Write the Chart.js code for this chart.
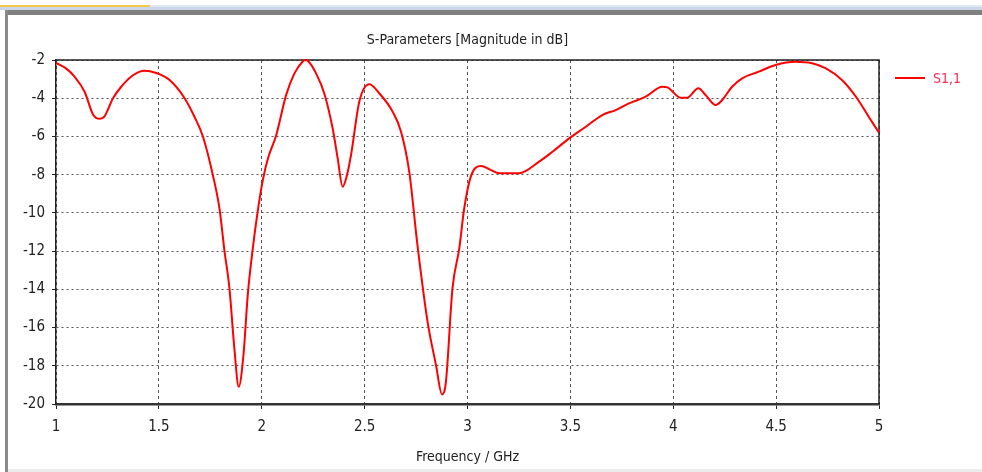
<!DOCTYPE html>
<html>
<head>
<meta charset="utf-8">
<title>S-Parameters</title>
<script src="https://cdn.jsdelivr.net/npm/chart.js@4.4.1/dist/chart.umd.min.js"></script>
<style>
  html, body { margin: 0; padding: 0; background: #ffffff; }
  #wrap { position: relative; width: 982px; height: 472px; overflow: hidden; background: #ffffff; }
  .bar { position: absolute; }
  #chartBox { position: absolute; left: 0; top: 0; width: 982px; height: 472px; }
</style>
</head>
<body>
<div id="wrap">
  <!-- window frame -->
  <div class="bar" style="left:0;top:5px;width:150px;height:2px;background:#f2c94c;"></div>
  <div class="bar" style="left:150px;top:5px;width:832px;height:2px;background:#dfe9f5;"></div>
  <div class="bar" style="left:0;top:7px;width:982px;height:3px;background:#c9d6e8;"></div>
  <div class="bar" style="left:5px;top:10px;width:977px;height:5px;background:#808080;"></div>
  <div class="bar" style="left:5px;top:10px;width:3px;height:462px;background:#8a8a8a;"></div>
  <div class="bar" style="left:8px;top:469px;width:974px;height:3px;background:#ececec;"></div>
  <div id="chartBox"><canvas id="chart"></canvas></div>
</div>
<script>
// Reflection coefficient S1,1 (dB) versus frequency (GHz)
const freqGHz = [
  1.000, 1.050, 1.090, 1.139, 1.180, 1.212, 1.236, 1.277, 1.317, 1.374,
  1.430, 1.487, 1.552, 1.625, 1.673, 1.714, 1.762, 1.795, 1.819, 1.843,
  1.867, 1.888, 1.911, 1.932, 1.956, 1.980, 2.005, 2.030, 2.070, 2.118,
  2.159, 2.199, 2.210, 2.225, 2.264, 2.304, 2.345, 2.369, 2.393, 2.410,
  2.434, 2.474, 2.523, 2.571, 2.636, 2.677, 2.717, 2.757, 2.806, 2.847,
  2.876, 2.895, 2.927, 2.960, 2.984, 3.016, 3.065, 3.114, 3.154, 3.251,
  3.348, 3.413, 3.494, 3.575, 3.655, 3.720, 3.785, 3.866, 3.947, 3.971,
  4.036, 4.068, 4.122, 4.157, 4.206, 4.238, 4.286, 4.335, 4.416, 4.497,
  4.594, 4.675, 4.740, 4.820, 4.893, 4.950, 5.000
];
const s11dB = [
  -2.15, -2.45, -2.87, -3.66, -4.85, -5.08, -4.95, -4.00, -3.40, -2.80,
  -2.56, -2.68, -3.05, -4.00, -4.97, -6.00, -8.00, -9.80, -12.00, -13.95,
  -17.10, -19.10, -17.45, -14.30, -11.90, -9.95, -8.30, -7.15, -5.95, -3.85,
  -2.70, -2.08, -2.00, -2.05, -2.70, -3.75, -5.60, -7.15, -8.63, -8.20,
  -6.97, -4.18, -3.27, -3.74, -4.70, -5.75, -7.85, -11.70, -15.70, -17.97,
  -19.50, -18.85, -13.95, -11.86, -9.77, -8.10, -7.55, -7.76, -7.93, -7.93,
  -7.32, -6.80, -6.10, -5.49, -4.88, -4.62, -4.27, -3.92, -3.40, -3.43,
  -3.97, -3.97, -3.48, -3.83, -4.36, -4.09, -3.40, -2.96, -2.61, -2.26,
  -2.09, -2.17, -2.43, -3.05, -4.00, -4.97, -5.80
];

const xTickValues = [1, 1.5, 2, 2.5, 3, 3.5, 4, 4.5, 5];
const xTickLabels = ["1", "1.5", "2", "2.5", "3", "3.5", "4", "4.5", "5"];
const yTickValues = [-2, -4, -6, -8, -10, -12, -14, -16, -18, -20];
const yTickLabels = ["-2", "-4", "-6", "-8", "-10", "-12", "-14", "-16", "-18", "-20"];

const seriesName = "S1,1";
const chartTitle = "S-Parameters [Magnitude in dB]";
const xAxisTitle = "Frequency / GHz";

const FONT = "'Liberation Sans Narrow', 'DejaVu Sans Condensed', 'Arial Narrow', sans-serif";
const textColor = "#222222";
const curveColor = "#ff0000";
const legendTextColor = "#ff2a55";

const points = freqGHz.map((f, i) => ({ x: f, y: s11dB[i] }));

// solid frame around the plot area (top and right sides included)
const plotFrame = {
  id: 'plotFrame',
  beforeDatasetsDraw(chart) {
    const { ctx, chartArea: a } = chart;
    ctx.save();
    ctx.strokeStyle = '#222222';
    ctx.lineWidth = 1.5;
    ctx.beginPath();
    ctx.moveTo(a.left, a.top);
    ctx.lineTo(a.right, a.top);
    ctx.lineTo(a.right, a.bottom);
    ctx.stroke();
    ctx.restore();
  }
};

// heading centred over the plot area
const plotHeading = {
  id: 'plotHeading',
  afterDraw(chart) {
    const { ctx, chartArea: a } = chart;
    ctx.save();
    ctx.fillStyle = textColor;
    ctx.font = "14px " + FONT;
    ctx.textAlign = 'center';
    ctx.textBaseline = 'middle';
    ctx.fillText(chartTitle, (a.left + a.right) / 2, a.top - 20);
    ctx.restore();
  }
};

// single-entry legend to the right of the plot
const sideLegend = {
  id: 'sideLegend',
  afterDraw(chart) {
    const { ctx, chartArea: a } = chart;
    const ds = chart.data.datasets[0];
    const y = a.top + 18;
    const x0 = a.right + 16;
    ctx.save();
    ctx.strokeStyle = ds.borderColor;
    ctx.lineWidth = 2;
    ctx.beginPath();
    ctx.moveTo(x0, y);
    ctx.lineTo(x0 + 30, y);
    ctx.stroke();
    ctx.fillStyle = legendTextColor;
    ctx.font = "14px " + FONT;
    ctx.textAlign = 'left';
    ctx.textBaseline = 'middle';
    ctx.fillText(ds.label, x0 + 38, y + 1);
    ctx.restore();
  }
};

new Chart(document.getElementById('chart'), {
  type: 'line',
  data: {
    datasets: [{
      label: seriesName,
      data: points,
      borderColor: curveColor,
      borderWidth: 2,
      pointRadius: 0,
      fill: false,
      cubicInterpolationMode: 'monotone',
      clip: 4
    }]
  },
  options: {
    responsive: true,
    maintainAspectRatio: false,
    animation: false,
    devicePixelRatio: 1,
    layout: { padding: { top: 60, left: 0, right: 103, bottom: 0 } },
    plugins: {
      legend: { display: false },
      tooltip: { enabled: false },
      title: { display: false }
    },
    scales: {
      x: {
        type: 'linear',
        min: 1,
        max: 5,
        afterBuildTicks: (s) => { s.ticks = xTickValues.map(v => ({ value: v })); },
        afterFit: (s) => { s.height = 68; },
        ticks: {
          autoSkip: false,
          maxRotation: 0,
          padding: 9,
          color: textColor,
          font: { family: FONT, size: 15 },
          callback: (v, i) => xTickLabels[i]
        },
        grid: { color: '#555555', lineWidth: 1, drawTicks: true, tickLength: 5, tickColor: '#222222', tickWidth: 1 },
        border: { display: true, color: '#333333', width: 2.5, dash: [3, 3] },
        title: {
          display: true,
          text: xAxisTitle,
          color: textColor,
          font: { family: FONT, size: 14, lineHeight: 1.2 },
          padding: { top: 0, bottom: 6 }
        }
      },
      y: {
        type: 'linear',
        min: -20,
        max: -2,
        afterBuildTicks: (s) => { s.ticks = yTickValues.map(v => ({ value: v })); },
        afterFit: (s) => { s.width = 56; },
        ticks: {
          autoSkip: false,
          padding: 7,
          color: textColor,
          font: { family: FONT, size: 15 },
          callback: (v, i) => yTickLabels[i]
        },
        grid: { color: '#555555', lineWidth: 1, drawTicks: true, tickLength: 4, tickColor: '#222222', tickWidth: 1 },
        border: { display: true, color: '#222222', width: 1.5, dash: [2, 3] }
      }
    }
  },
  plugins: [plotFrame, plotHeading, sideLegend]
});
</script>
</body>
</html>
